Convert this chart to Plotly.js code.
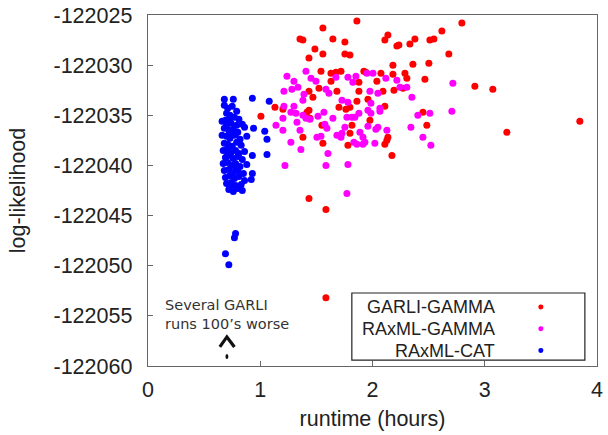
<!DOCTYPE html>
<html>
<head>
<meta charset="utf-8">
<script src="https://cdn.plot.ly/plotly-3.0.1.min.js"></script>
<style>html,body{margin:0;padding:0;background:#fff;}#chart{width:608px;height:435px;}</style>
</head>
<body>
<div id="chart"></div>
<script>
const seriesNames = ["GARLI-GAMMA", "RAxML-GAMMA", "RAxML-CAT"];
const seriesColors = ["#ff0000", "#ff00ff", "#0000ff"];

const garliX = [1.861,1.558,1.354,1.380,1.647,1.754,1.487,1.558,1.754,1.799,1.434,2.137,2.110,2.217,2.235,2.333,2.378,2.511,2.547,2.618,2.796,2.680,2.360,2.502,2.182,1.541,1.630,1.674,1.719,1.923,1.941,2.075,2.182,2.289,2.306,2.467,2.039,1.879,1.630,2.912,3.072,1.523,1.434,1.683,1.879,2.093,2.191,2.271,1.469,1.959,1.861,1.131,1.202,1.434,1.701,1.763,1.799,2.110,2.449,2.484,1.006,1.977,1.549,1.799,1.817,1.380,1.558,1.781,2.137,2.128,2.110,2.173,1.434,1.585,1.585,3.197,3.847,1.443,1.416];
const garliY = [-122025.6,-122026.3,-122027.4,-122027.5,-122027.4,-122027.7,-122028.4,-122028.9,-122028.9,-122029.0,-122029.3,-122027.0,-122027.5,-122028.1,-122028.0,-122027.9,-122027.4,-122027.5,-122027.4,-122026.6,-122025.8,-122028.9,-122029.9,-122029.8,-122030.0,-122030.6,-122030.8,-122030.7,-122030.6,-122030.6,-122030.7,-122030.8,-122030.9,-122030.8,-122031.3,-122031.4,-122031.6,-122031.7,-122031.6,-122032.1,-122032.4,-122032.3,-122032.6,-122032.6,-122032.6,-122032.6,-122032.5,-122032.3,-122033.2,-122033.4,-122033.6,-122034.2,-122034.4,-122034.5,-122034.2,-122034.4,-122034.2,-122034.1,-122034.7,-122036.0,-122035.1,-122035.5,-122036.0,-122036.8,-122036.0,-122037.2,-122037.8,-122038.0,-122037.2,-122037.5,-122037.9,-122039.0,-122043.3,-122044.4,-122053.2,-122036.7,-122035.6,-122035.3,-122034.7];

const raxmlGammaX = [1.238,1.300,1.407,1.452,1.496,1.211,1.282,1.336,1.389,1.380,1.585,1.612,1.674,1.781,1.852,1.825,1.950,2.004,2.119,2.217,2.306,2.048,1.986,2.066,1.728,1.781,1.300,1.211,1.202,1.273,1.327,1.380,1.407,1.514,1.567,1.647,1.772,1.817,1.843,1.879,1.986,2.030,1.959,1.888,1.915,1.915,2.021,1.861,1.683,1.719,1.541,1.505,1.594,1.354,1.202,1.140,2.342,2.351,2.404,2.511,2.449,2.520,2.716,2.707,1.273,1.220,1.362,1.585,1.603,1.781,1.772,1.728,1.754,1.834,1.443,1.576,1.318,1.932,2.066,2.048,2.128,1.959,2.244,1.977];
const raxmlGammaY = [-122031.1,-122031.6,-122030.6,-122031.3,-122031.6,-122032.6,-122032.4,-122032.2,-122032.9,-122033.5,-122032.4,-122032.8,-122031.2,-122031.2,-122031.1,-122031.7,-122030.8,-122030.8,-122031.3,-122031.5,-122032.2,-122032.8,-122033.8,-122034.3,-122033.5,-122033.7,-122034.1,-122034.1,-122035.3,-122034.7,-122035.7,-122035.0,-122035.3,-122035.1,-122034.7,-122035.3,-122035.2,-122035.2,-122035.2,-122034.8,-122034.8,-122036.4,-122036.1,-122036.7,-122037.2,-122037.9,-122037.8,-122037.9,-122037.0,-122037.2,-122037.1,-122037.2,-122036.3,-122036.5,-122036.5,-122036.0,-122036.2,-122033.2,-122035.0,-122034.8,-122037.2,-122038.0,-122031.8,-122034.6,-122037.7,-122040.0,-122038.4,-122040.0,-122038.8,-122039.9,-122042.8,-122036.8,-122036.2,-122037.7,-122035.4,-122035.9,-122034.8,-122037.7,-122034.6,-122036.2,-122036.5,-122034.5,-122032.2,-122032.6];

const raxmlCatX = [0.68,0.76,0.93,1.08,0.94,1.04,1.06,1.06,0.93,0.93,0.92,0.78,0.77,0.69,0.72,
  0.68,0.71,0.75,0.79,0.70,0.73,0.77,0.81,0.66,0.69,0.74,0.79,0.84,0.68,0.72,0.76,0.80,0.86,0.66,0.70,0.73,0.77,0.82,0.88,0.68,0.71,0.75,0.79,0.83,0.67,0.70,0.74,0.78,0.81,0.86,0.69,0.72,0.76,0.80,0.84,0.67,0.71,0.75,0.78,0.82,0.88,0.68,0.72,0.76,0.80,0.85,0.69,0.73,0.77,0.81,0.86,0.70,0.74,0.78,0.83,0.72,0.76,0.80,0.73,0.78,0.71,0.79,0.74,0.84,0.75,0.70];
const raxmlCatY = [-122033.4,-122033.4,-122033.3,-122033.6,-122036.3,-122036.6,-122037.4,-122038.9,-122039.0,-122040.8,-122041.4,-122046.8,-122047.2,-122048.8,-122049.9,
  -122034.0,-122034.3,-122034.1,-122034.6,-122034.8,-122035.0,-122035.2,-122035.4,-122035.6,-122035.5,-122035.8,-122036.0,-122035.9,-122036.3,-122036.5,-122036.4,-122036.7,-122036.2,-122037.0,-122037.1,-122037.3,-122037.0,-122037.4,-122037.1,-122037.8,-122037.9,-122038.1,-122037.7,-122038.0,-122038.5,-122038.4,-122038.7,-122038.5,-122038.8,-122038.6,-122039.2,-122039.0,-122039.3,-122039.1,-122039.4,-122039.8,-122039.7,-122040.0,-122039.8,-122040.1,-122039.9,-122040.5,-122040.4,-122040.7,-122040.5,-122040.8,-122041.2,-122041.0,-122041.3,-122041.1,-122041.5,-122041.8,-122041.7,-122042.0,-122041.9,-122042.4,-122042.6,-122042.3,-122035.3,-122036.9,-122038.9,-122040.3,-122042.0,-122042.5,-122036.9,-122036.0];

const xTicks = [0, 1, 2, 3, 4];
const yTicks = [-122025, -122030, -122035, -122040, -122045, -122050, -122055, -122060];
const xTitle = "runtime (hours)";
const yTitle = "log-likelihood";
const noteText = "Several GARLI<br>runs 100\u2019s worse";

const seriesX = [garliX, raxmlGammaX, raxmlCatX];
const seriesY = [garliY, raxmlGammaY, raxmlCatY];

const traces = seriesNames.map((n, i) => ({
  type: 'scatter', mode: 'markers', name: n,
  x: seriesX[i], y: seriesY[i],
  marker: {color: seriesColors[i], size: 7, line: {width: 0}},
  showlegend: false, cliponaxis: true
}));

const axisFont = {family: 'Liberation Sans, Arial, sans-serif', size: 21.5, color: '#222'};
const titleFont = {family: 'Liberation Sans, Arial, sans-serif', size: 21.5, color: '#222'};

// legend drawn as box + right-aligned labels + marker dots on the right
const legRows = [0.168, 0.106, 0.044];
const shapes = [
  {type: 'rect', xref: 'paper', yref: 'paper', x0: 0.454, x1: 0.973, y0: 0.017, y1: 0.208,
   line: {color: '#222', width: 1.2}, fillcolor: 'rgba(0,0,0,0)'},
  // caret arrow
  {type: 'path', xref: 'x', yref: 'y', path: 'M 0.64,-122058.1 L 0.703,-122057.1 L 0.77,-122058.1',
   line: {color: '#111', width: 3.2}},
  {type: 'circle', xref: 'x', yref: 'y', x0: 0.69, x1: 0.716, y0: -122059.3, y1: -122058.8,
   fillcolor: '#111', line: {width: 0}}
];
const annotations = [
  {xref: 'paper', yref: 'paper', x: 0.034, y: 0.146, xanchor: 'left', yanchor: 'middle',
   align: 'left', showarrow: false, text: noteText,
   font: {family: 'DejaVu Sans, sans-serif', size: 14.5, color: '#333'}}
];
seriesNames.forEach((n, i) => {
  annotations.push({xref: 'paper', yref: 'paper', x: 0.777, y: legRows[i], xanchor: 'right', yanchor: 'middle',
    showarrow: false, text: n, font: {family: 'Liberation Sans, Arial, sans-serif', size: 18, color: '#222'}});
  shapes.push({type: 'circle', xref: 'paper', yref: 'paper',
    x0: 0.875 - 0.0056, x1: 0.875 + 0.0056, y0: legRows[i] - 0.0071, y1: legRows[i] + 0.0071,
    fillcolor: seriesColors[i], line: {width: 0}});
});

const layout = {
  width: 608, height: 435,
  margin: {l: 148, r: 11, t: 15, b: 69},
  paper_bgcolor: '#fff', plot_bgcolor: '#fff',
  showlegend: false,
  xaxis: {
    range: [0, 4], tickvals: xTicks, ticktext: xTicks.map(String),
    showgrid: false, zeroline: false, showline: true, mirror: true,
    linecolor: '#666', linewidth: 1.3, ticks: 'inside', ticklen: 5, tickcolor: '#666',
    tickfont: axisFont, ticklabelstandoff: 4,
    title: {text: xTitle, font: titleFont, standoff: 10}
  },
  yaxis: {
    range: [-122060, -122025], tickvals: yTicks, ticktext: yTicks.map(String),
    showgrid: false, zeroline: false, showline: true, mirror: true,
    linecolor: '#666', linewidth: 1.3, ticks: 'inside', ticklen: 5, tickcolor: '#666',
    tickfont: axisFont, ticklabelstandoff: 10,
    title: {text: yTitle, font: titleFont, standoff: 22}
  },
  shapes: shapes,
  annotations: annotations
};

Plotly.newPlot('chart', traces, layout, {displayModeBar: false, staticPlot: true});
</script>
</body>
</html>
